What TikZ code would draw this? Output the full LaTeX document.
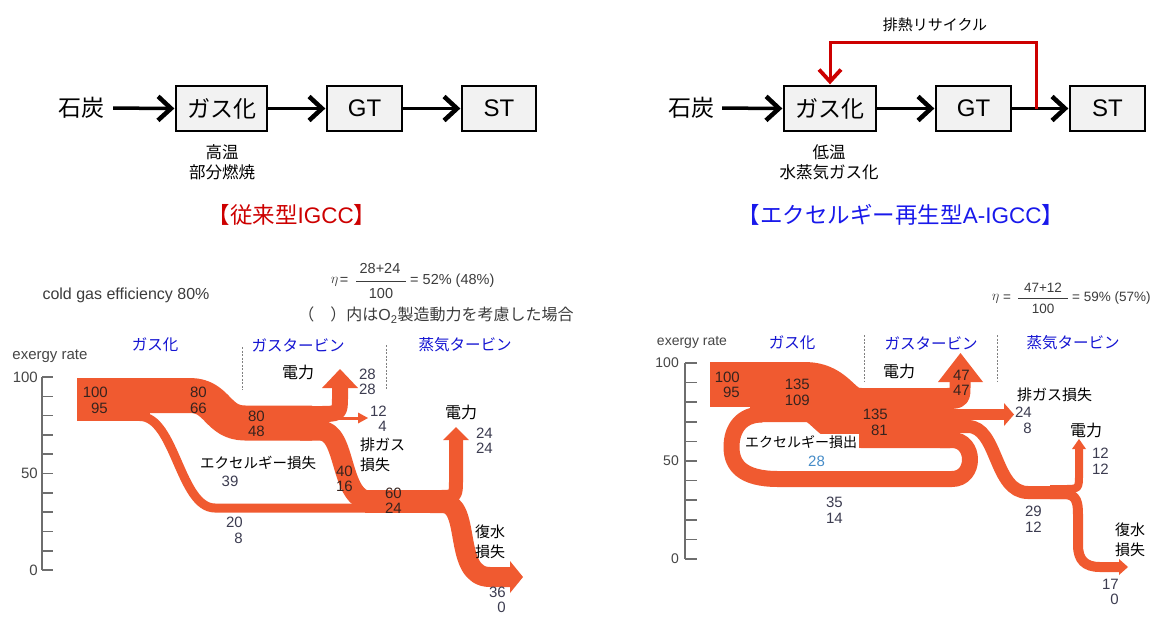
\documentclass[tikz,border=0pt]{standalone}
\usepackage{fontspec}
\setmainfont{Liberation Sans}
\newfontfamily\jp{Noto Sans CJK JP}
\usetikzlibrary{arrows.meta}
\definecolor{bandc}{RGB}{240,90,48}
\definecolor{numout}{RGB}{60,60,80}
\definecolor{numin}{RGB}{55,35,30}
\definecolor{hdrblue}{RGB}{20,20,210}
\definecolor{titblue}{RGB}{25,25,235}
\definecolor{redc}{RGB}{205,0,0}
\definecolor{boxc}{RGB}{242,242,242}
\definecolor{axisc}{RGB}{110,110,110}
\definecolor{axisl}{RGB}{70,70,70}
\definecolor{lblue}{RGB}{70,140,200}
\definecolor{fmc}{RGB}{60,60,60}
\newcommand\fsz[1]{\fontsize{#1}{#1}\selectfont}
\newcommand\fszl[2]{\fontsize{#1}{#2}\selectfont}
\tikzset{
 bnd/.style={draw=bandc, line cap=butt, line join=round},
 numo/.style={font=\fszl{15}{15.5}, text=numout, align=right, inner sep=0pt},
 numi/.style={font=\fszl{15}{15.5}, text=numin, align=right, inner sep=0pt},
 jl/.style={font=\jp\fszl{15}{20}, text=black, inner sep=0pt},
 hdr/.style={font=\jp\fsz{15.5}, text=hdrblue, inner sep=0pt},
 ax/.style={draw=axisc, line width=1.6pt},
 axl/.style={font=\fsz{15}, text=axisl, inner sep=0pt, anchor=east},
 dsh/.style={draw=gray, line width=0.8pt, dash pattern=on 2pt off 1.5pt},
 box/.style={draw=black, fill=boxc, line width=1.3pt, minimum height=45pt, inner sep=0pt},
 flow/.style={line width=3.5pt, arrows={-Straight Barb[length=13pt, width=24pt, line width=4.5pt]}},
 rflow/.style={draw=redc, line width=3pt, arrows={-Straight Barb[length=12pt, width=22pt, line width=3.8pt]}},
 fm/.style={font=\fsz{14.5}, text=fmc, inner sep=0pt},
 fms/.style={font=\fsz{13.5}, text=fmc, inner sep=0pt},
}
\begin{document}
\begin{tikzpicture}[x=1pt,y=-1pt]
\useasboundingbox[fill=white] (0,0) rectangle (1161,619);

% ---------- top left block diagram ----------
\node[font=\jp\fsz{23}, inner sep=0pt] (c1) at (81,108) {石炭};
\node[box, minimum width=91pt, font=\jp\fsz{23}] (g1) at (221.5,108.5) {ガス化};
\node[box, minimum width=75pt, font=\fsz{24}] (t1) at (364.5,108.5) {GT};
\node[box, minimum width=74pt, font=\fsz{24}] (s1) at (499,108.5) {ST};
\draw[flow, shorten <=9pt, shorten >=1pt] (c1.east) -- (g1.west);
\draw[flow, shorten >=1pt] (g1.east) -- (t1.west);
\draw[flow, shorten >=1pt] (t1.east) -- (s1.west);
\node[font=\jp\fszl{16.5}{20}, align=center, inner sep=0pt] (n1) at (222,162) {高温\\部分燃焼};
\node[font=\fsz{22.5}, text=redc, inner sep=0pt] (ti1) at (292,215) {{\jp 【従来型}IGCC{\jp 】}};

% ---------- top right block diagram ----------
\node[font=\jp\fsz{23}, inner sep=0pt] (c2) at (691,108) {石炭};
\node[box, minimum width=92pt, font=\jp\fsz{23}] (g2) at (830,108.5) {ガス化};
\node[box, minimum width=75pt, font=\fsz{24}] (t2) at (973.5,108.5) {GT};
\node[box, minimum width=75pt, font=\fsz{24}] (s2) at (1107.5,108.5) {ST};
\draw[flow, shorten <=8pt, shorten >=1pt] (c2.east) -- (g2.west);
\draw[flow, shorten >=1pt] (g2.east) -- (t2.west);
\draw[flow, shorten >=1pt] (t2.east) -- (s2.west);
\coordinate (rc) at (1036,108.5);
\draw[rflow, line join=miter, shorten >=1pt] (rc) -- (1036,42) -- (830,42) -- (g2.north);
\node[font=\jp\fsz{15}, inner sep=0pt] (rl) at (935,25) {排熱リサイクル};
\node[font=\jp\fszl{16.5}{20}, align=center, inner sep=0pt] (n2) at (829,162) {低温\\水蒸気ガス化};
\node[font=\fsz{22.5}, text=titblue, inner sep=0pt] (ti2) at (901,215) {{\jp 【エクセルギー再生型}A-IGCC{\jp 】}};

% ---------- left formula ----------
\node[font=\fsz{16}, text=fmc, inner sep=0pt] (cg) at (126,295) {cold gas efficiency 80\%};
\node[fm] (e1) at (334.5,282) {$\eta$};
\node[fm] (q1) at (344,281) {=};
\node[fm] (fn1) at (380,269) {28+24};
\node[fm] (fd1) at (381,294) {100};
\draw[draw=fmc, line width=0.8pt] (356,281.5) -- (406,281.5);
\node[fm, anchor=west] (rf1) at (410,281) {= 52\% (48\%)};
\node[font=\jp\fsz{16}, text=fmc, inner sep=0pt] (f1b) at (436,315) {（　）内は{\rmfamily O\textsubscript{2}}製造動力を考慮した場合};

% ---------- right formula ----------
\node[fms] (e2) at (995.5,299) {$\eta$};
\node[fms] (q2) at (1007,298) {=};
\node[fms] (fn2) at (1043,287.5) {47+12};
\node[fms] (fd2) at (1043,308.5) {100};
\draw[draw=fmc, line width=0.8pt] (1018,298.5) -- (1068,298.5);
\node[fms, anchor=west] (rf2) at (1072,298) {= 59\% (57\%)};

% ---------- left sankey ----------
\node[font=\fsz{15}, text=axisl, inner sep=0pt] (ex1) at (50,356) {exergy rate};
\draw[ax] (42,377) -- (42,570);
\foreach \i in {0,...,10} \draw[ax] (42,{377+19.3*\i}) -- (53,{377+19.3*\i});
\node[axl] (a1) at (38,377) {100};
\node[axl] (a2) at (38,473.5) {50};
\node[axl] (a3) at (38,570) {0};
\node[hdr] (h1) at (155,345) {ガス化};
\node[hdr] (h2) at (298,345) {ガスタービン};
\node[hdr] (h3) at (465,345) {蒸気タービン};
\draw[dsh] (242,347) -- (242,390);
\draw[dsh] (386,345) -- (386,390);

\fill[bandc] (77,378) rectangle (150,421);
\draw[bnd, line width=9pt] (140,416.5) .. controls (175,416.5) and (180,508) .. (215,508) -- (372,508);
\draw[bnd, line width=35pt] (145,395.5) -- (190,395.5) .. controls (218,395.5) and (217,423) .. (245,423) -- (312,423);
\draw[bnd, line width=16pt] (300,414) -- (318,414) .. controls (340,414) .. (340,396) -- (340,387);
\fill[bandc] (322,388) -- (358,388) -- (340,369) -- cycle;
\draw[bnd, line width=3pt] (310,418) -- (360,418);
\fill[bandc] (358,412.5) -- (368,418) -- (358,423.5) -- cycle;
\draw[bnd, line width=20pt] (300,430.5) -- (320,430.5) .. controls (348,430.5) and (338,501.5) .. (372,501.5);
\draw[bnd, line width=23pt] (365,501.5) -- (445,501.5);
\draw[bnd, line width=14pt] (425,497) -- (438,497) .. controls (456,497) .. (456,479) -- (456,439);
\fill[bandc] (443,440) -- (469,440) -- (456,427) -- cycle;
\draw[bnd, line width=20pt] (430,503) -- (443,503) .. controls (472,503) and (452,577) .. (490,577) -- (512,577);
\fill[bandc] (510,561) -- (523,577) -- (510,593) -- cycle;

\node[numi, anchor=east] (l1) at (108,400.5) {100\\95};
\node[numi, anchor=east] (l2) at (207,400.5) {80\\66};
\node[numi, anchor=east] (l3) at (265,424) {80\\48};
\node[jl, font=\jp\fsz{14.5}, anchor=west] (l4) at (200,463) {エクセルギー損失};
\node[numo] (l5) at (230,481) {39};
\node[numo, anchor=east] (l6) at (243,530.5) {20\\8};
\node[jl, font=\jp\fsz{16}] (l7) at (298,372) {電力};
\node[numo, anchor=east] (l8) at (376,382) {28\\28};
\node[numo, anchor=east] (l9) at (387,419) {12\\4};
\node[jl, anchor=west, align=left] (l10) at (360,455) {排ガス\\損失};
\node[numi, anchor=east] (l11) at (353,479) {40\\16};
\node[numi, anchor=east] (l12) at (402,501) {60\\24};
\node[jl, font=\jp\fsz{16}] (l13) at (461,412) {電力};
\node[numo, anchor=east] (l14) at (493,441) {24\\24};
\node[jl, anchor=west, align=left] (l15) at (475,542) {復水\\損失};
\node[numo, anchor=east] (l16) at (506,600) {36\\0};

% ---------- right sankey ----------
\node[font=\fsz{14}, text=axisl, inner sep=0pt] (ex2) at (692,342) {exergy rate};
\draw[ax] (685,363) -- (685,559);
\foreach \i in {0,...,10} \draw[ax] (685,{363+19.6*\i}) -- (697,{363+19.6*\i});
\node[axl, font=\fsz{14}] (b1) at (679,363) {100};
\node[axl, font=\fsz{14}] (b2) at (679,461) {50};
\node[axl, font=\fsz{14}] (b3) at (679,559) {0};
\node[hdr] (h4) at (792,343) {ガス化};
\node[hdr] (h5) at (931,343) {ガスタービン};
\node[hdr] (h6) at (1073,343) {蒸気タービン};
\draw[dsh] (864,335) -- (864,382);
\draw[dsh] (997,335) -- (997,382);

\fill[bandc] (710,362) rectangle (756,407);
\draw[bnd, line width=16pt] (940,440) -- (952,440) .. controls (976,440) and (976,479) .. (952,479) -- (778,479) .. controls (742,479) and (731.5,465) .. (731.5,447) .. controls (731.5,428) and (742,414.5) .. (762,414.5);
\draw[bnd, line width=60pt] (750,392) -- (805,392) .. controls (833,392) and (833,418) .. (861,418) -- (950,418);
\draw[bnd, line width=21pt] (930,398.5) -- (944,398.5) .. controls (960,398.5) .. (960,386) -- (960,381);
\fill[bandc] (938,382) -- (983,382) -- (960.5,353) -- cycle;
\draw[bnd, line width=11pt] (940,414.5) -- (1006,414.5);
\fill[bandc] (1004,403) -- (1014,414.5) -- (1004,426) -- cycle;
\draw[bnd, line width=13pt] (940,426.5) -- (968,426.5) .. controls (998,426.5) and (994,492.5) .. (1028,492.5) -- (1066,492.5);
\draw[bnd, line width=8pt] (1050,489) -- (1064,489) .. controls (1079,489) .. (1079,474) -- (1079,448);
\fill[bandc] (1072,449) -- (1086,449) -- (1079,439) -- cycle;
\draw[bnd, line width=10pt] (1050,494) -- (1064,494) .. controls (1077,494) and (1078,503) .. (1078,515) -- (1078,545) .. controls (1078,560) and (1085,567) .. (1100,567) -- (1121,567);
\fill[bandc] (1119,559) -- (1128,567) -- (1119,575) -- cycle;

\node[numi, anchor=east] (r1) at (740,385) {100\\95};
\node[numi, anchor=east] (r2) at (810,392.5) {135\\109};
\node[numi, anchor=east] (r3) at (888,422.5) {135\\81};
\node[fill=white, inner sep=1.5pt, font=\jp\fsz{14}] (r4) at (801,442) {エクセルギー損出};
\node[numo, text=lblue] (r5) at (816.5,461) {28};
\node[numo, anchor=east] (r6) at (843,510.5) {35\\14};
\node[jl, font=\jp\fsz{16}] (r7) at (899,371) {電力};
\node[numi, anchor=east] (r8) at (970,383) {47\\47};
\node[jl, anchor=west] (r9) at (1017,395) {排ガス損失};
\node[numo, anchor=east] (r10) at (1032,420.5) {24\\8};
\node[jl, font=\jp\fsz{16}] (r11) at (1086,430) {電力};
\node[numo, anchor=east] (r12) at (1109,461.5) {12\\12};
\node[numo, anchor=east] (r13) at (1042,519.5) {29\\12};
\node[jl, anchor=west, align=left] (r14) at (1115,540) {復水\\損失};
\node[numo, anchor=east] (r15) at (1119,592) {17\\0};
\end{tikzpicture}
\end{document}
